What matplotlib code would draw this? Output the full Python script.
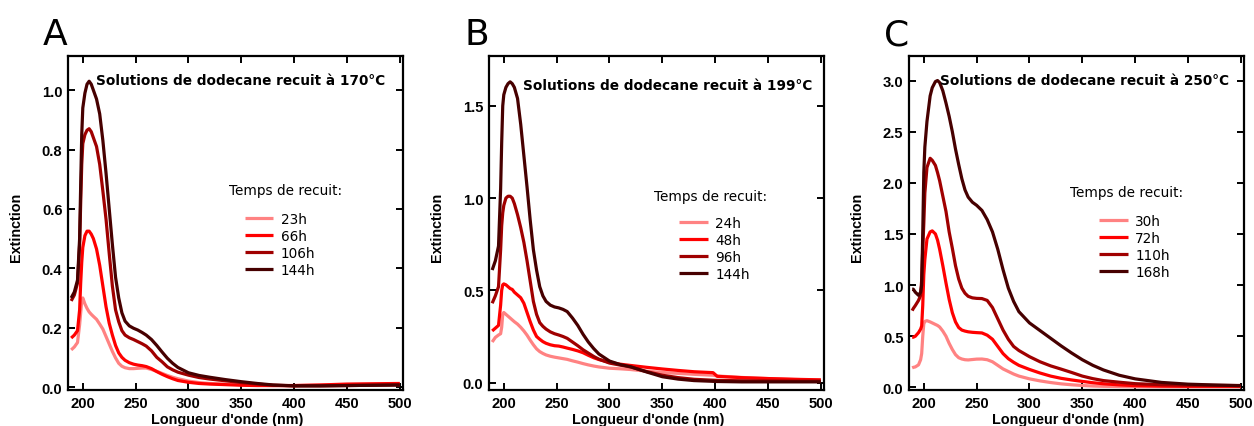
import matplotlib
matplotlib.use('Agg')
import matplotlib.pyplot as plt

# ---------------- data ----------------
wl_A = [189, 192, 195, 197, 198, 199, 200, 202, 204, 206, 208, 210, 213, 216, 219, 222, 225, 228, 231, 234,
        237, 240, 244, 248, 252, 256, 260, 265, 270, 275, 280, 285, 290, 300, 310, 320, 335, 350, 365, 380,
        400, 425, 450, 475, 500]
A_23h = [0.125, 0.135, 0.15, 0.21, 0.25, 0.29, 0.30, 0.28, 0.265, 0.253, 0.245, 0.238, 0.228, 0.212, 0.195,
         0.17, 0.145, 0.12, 0.098, 0.08, 0.07, 0.065, 0.062, 0.062, 0.063, 0.064, 0.064, 0.059, 0.053, 0.046,
         0.039, 0.033, 0.028, 0.02, 0.015, 0.012, 0.01, 0.008, 0.006, 0.005, 0.005, 0.006, 0.008, 0.009, 0.01]
A_66h = [0.165, 0.175, 0.19, 0.26, 0.35, 0.42, 0.47, 0.51, 0.525, 0.525, 0.515, 0.50, 0.465, 0.41, 0.34,
         0.27, 0.215, 0.175, 0.14, 0.115, 0.1, 0.09, 0.082, 0.077, 0.074, 0.072, 0.069, 0.062, 0.052, 0.043,
         0.035, 0.028, 0.022, 0.016, 0.012, 0.01, 0.008, 0.006, 0.005, 0.005, 0.005, 0.007, 0.01, 0.011, 0.012]
A_106h = [0.29, 0.31, 0.35, 0.48, 0.62, 0.75, 0.82, 0.85, 0.865, 0.87, 0.86, 0.84, 0.81, 0.75, 0.66,
          0.565, 0.45, 0.34, 0.26, 0.22, 0.19, 0.175, 0.166, 0.16, 0.153, 0.146, 0.138, 0.122, 0.1, 0.085,
          0.068, 0.058, 0.05, 0.04, 0.032, 0.027, 0.021, 0.015, 0.01, 0.006, 0.004, 0.004, 0.005, 0.006, 0.007]
A_144h = [0.30, 0.32, 0.36, 0.50, 0.68, 0.85, 0.94, 0.99, 1.02, 1.03, 1.02, 1.00, 0.97, 0.92, 0.83,
          0.72, 0.60, 0.48, 0.37, 0.30, 0.25, 0.222, 0.206, 0.198, 0.192, 0.184, 0.175, 0.16, 0.14, 0.118,
          0.097, 0.08, 0.066, 0.048, 0.039, 0.033, 0.025, 0.018, 0.012, 0.007, 0.004, 0.004, 0.005, 0.006, 0.007]

wl_B = [189, 192, 195, 197, 198, 199, 200, 202, 204, 206, 208, 210, 213, 216, 219, 222, 225, 228, 231, 234,
        237, 240, 244, 248, 252, 256, 260, 265, 270, 275, 280, 285, 290, 300, 310, 320, 335, 350, 365, 380,
        398, 402, 425, 450, 475, 500]
B_24h = [0.22, 0.245, 0.258, 0.265, 0.3, 0.37, 0.38, 0.37, 0.36, 0.35, 0.34, 0.33, 0.317, 0.3, 0.28,
         0.257, 0.23, 0.205, 0.183, 0.168, 0.158, 0.15, 0.143, 0.138, 0.134, 0.13, 0.126, 0.118, 0.111, 0.103,
         0.096, 0.09, 0.085, 0.078, 0.075, 0.071, 0.062, 0.055, 0.05, 0.045, 0.04, 0.036, 0.028, 0.022, 0.017, 0.014]
B_48h = [0.28, 0.295, 0.31, 0.42, 0.5, 0.53, 0.535, 0.53, 0.52, 0.51, 0.505, 0.49, 0.475, 0.46, 0.43,
         0.38, 0.33, 0.285, 0.25, 0.235, 0.222, 0.213, 0.205, 0.2, 0.198, 0.193, 0.187, 0.18, 0.172, 0.162,
         0.148, 0.135, 0.125, 0.11, 0.1, 0.093, 0.083, 0.074, 0.066, 0.059, 0.054, 0.034, 0.027, 0.022, 0.018, 0.015]
B_96h = [0.43, 0.47, 0.52, 0.72, 0.85, 0.92, 0.96, 1.0, 1.01, 1.01, 1.0, 0.97, 0.91, 0.84, 0.76,
         0.66, 0.55, 0.44, 0.37, 0.325, 0.305, 0.29, 0.275, 0.265, 0.258, 0.25, 0.24, 0.22, 0.2, 0.178,
         0.16, 0.142, 0.127, 0.106, 0.095, 0.085, 0.06, 0.04, 0.027, 0.018, 0.013, 0.012, 0.01, 0.009, 0.008, 0.008]
B_144h = [0.61, 0.66, 0.74, 1.05, 1.3, 1.5, 1.56, 1.60, 1.62, 1.63, 1.62, 1.60, 1.54, 1.40, 1.23,
          1.06, 0.88, 0.72, 0.61, 0.52, 0.47, 0.44, 0.42, 0.41, 0.405, 0.397, 0.385, 0.35, 0.31, 0.262,
          0.22, 0.185, 0.155, 0.117, 0.098, 0.086, 0.058, 0.032, 0.019, 0.011, 0.007, 0.006, 0.004, 0.004, 0.004, 0.004]

wl_C = [189, 190, 192, 195, 197, 198, 199, 200, 201, 203, 206, 208, 211, 213, 215, 218, 221, 224, 227, 230,
        233, 236, 239, 242, 246, 250, 255, 260, 265, 270, 275, 280, 285, 290, 300, 310, 320, 330, 340, 350,
        360, 370, 385, 400, 425, 450, 475, 500]
C_30h = [0.19, 0.195, 0.2, 0.22, 0.27, 0.33, 0.5, 0.62, 0.645, 0.652, 0.64, 0.63, 0.615, 0.605, 0.59,
         0.55, 0.5, 0.43, 0.37, 0.32, 0.29, 0.277, 0.27, 0.268, 0.272, 0.276, 0.277, 0.27, 0.25, 0.215,
         0.18, 0.155, 0.13, 0.11, 0.083, 0.063, 0.047, 0.034, 0.025, 0.018, 0.013, 0.01, 0.008, 0.006,
         0.005, 0.005, 0.005, 0.005]
C_72h = [0.49, 0.49, 0.5, 0.535, 0.57, 0.6, 0.8, 1.1, 1.25, 1.45, 1.52, 1.53, 1.5, 1.44, 1.35,
         1.19, 1.02, 0.86, 0.73, 0.64, 0.585, 0.56, 0.55, 0.543, 0.538, 0.535, 0.532, 0.51, 0.47, 0.4,
         0.33, 0.28, 0.245, 0.215, 0.175, 0.14, 0.11, 0.088, 0.072, 0.058, 0.045, 0.035, 0.024, 0.017,
         0.012, 0.01, 0.01, 0.01]
C_110h = [0.75, 0.77, 0.8, 0.85, 0.9, 1.05, 1.35, 1.6, 1.9, 2.15, 2.24, 2.22, 2.17, 2.1, 2.02,
          1.87, 1.72, 1.52, 1.36, 1.19, 1.06, 0.97, 0.92, 0.89, 0.875, 0.87, 0.868, 0.85, 0.78, 0.67,
          0.56, 0.47, 0.4, 0.36, 0.3, 0.25, 0.21, 0.178, 0.145, 0.11, 0.085, 0.066, 0.05, 0.036,
          0.026, 0.021, 0.019, 0.018]
C_168h = [0.96, 0.96, 0.93, 0.90, 0.93, 1.0, 1.5, 2.1, 2.35, 2.6, 2.85, 2.93, 2.99, 3.0, 2.98,
          2.9, 2.78, 2.65, 2.5, 2.33, 2.18, 2.04, 1.93, 1.86, 1.81, 1.78, 1.73, 1.64, 1.52, 1.35,
          1.15, 0.97, 0.84, 0.74, 0.63, 0.555, 0.48, 0.405, 0.335, 0.27, 0.215, 0.17, 0.118, 0.083,
          0.048, 0.031, 0.023, 0.016]

labels_A = ['23h', '66h', '106h', '144h']
labels_B = ['24h', '48h', '96h', '144h']
labels_C = ['30h', '72h', '110h', '168h']
titles = ['Solutions de dodecane recuit à 170°C',
          'Solutions de dodecane recuit à 199°C',
          'Solutions de dodecane recuit à 250°C']
panel_letters = ['A', 'B', 'C']
xticks = [200, 250, 300, 350, 400, 450, 500]
yticks_A = [0.0, 0.2, 0.4, 0.6, 0.8, 1.0]
yticks_B = [0.0, 0.5, 1.0, 1.5]
yticks_C = [0.0, 0.5, 1.0, 1.5, 2.0, 2.5, 3.0]

# ---------------- styling ----------------
colors = ['#FF8282', '#FF0000', '#A00000', '#470000']
plt.rcParams['font.family'] = ['Liberation Sans', 'DejaVu Sans']

W, H = 1254, 427
fig = plt.figure(figsize=(W / 100, H / 100), dpi=100)

panels = [
    dict(wl=wl_A, ys=[A_23h, A_66h, A_106h, A_144h], labels=labels_A, yticks=yticks_A,
         ylim=(-0.01, 1.115), left=68, title_x=0.946, title_y=0.928,
         leg_title=(0.480, 0.599), leg=(0.528, 0.533)),
    dict(wl=wl_B, ys=[B_24h, B_48h, B_96h, B_144h], labels=labels_B, yticks=yticks_B,
         ylim=(-0.04, 1.77), left=489, title_x=0.966, title_y=0.914,
         leg_title=(0.493, 0.581), leg=(0.568, 0.521)),
    dict(wl=wl_C, ys=[C_30h, C_72h, C_110h, C_168h], labels=labels_C, yticks=yticks_C,
         ylim=(-0.026, 3.24), left=909, title_x=0.955, title_y=0.928,
         leg_title=(0.481, 0.592), leg=(0.568, 0.527)),
]

for i, p in enumerate(panels):
    ax = fig.add_axes([p['left'] / W, 36 / H, 335 / W, 334 / H])
    for y, c, lab in zip(p['ys'], colors, p['labels']):
        ax.plot(p['wl'], y, color=c, lw=2.3, label=lab, solid_capstyle='butt')
    ax.set_xlim(186, 503)
    ax.set_ylim(*p['ylim'])
    ax.set_xticks(xticks)
    ax.set_xticklabels([str(t) for t in xticks], fontweight='bold')
    ax.set_yticks(p['yticks'])
    ax.set_yticklabels(['%.1f' % t for t in p['yticks']], fontweight='bold')
    ax.tick_params(direction='in', length=5, width=1.4, top=True, right=True,
                   labelsize=10.6, pad=4, colors='black')
    for s in ax.spines.values():
        s.set_linewidth(1.6)
    ax.set_xlabel("Longueur d'onde (nm)", fontweight='bold', fontsize=10.4, va='center')
    ax.xaxis.set_label_coords(0.475, -0.087)
    ax.set_ylabel('Extinction', fontweight='bold', fontsize=10.4, va='center')
    ax.yaxis.set_label_coords(-0.155, 0.491)

    ax.text(p['title_x'], p['title_y'], titles[i], transform=ax.transAxes,
            ha='right', va='center', fontsize=9.8, fontweight='bold', family='DejaVu Sans')
    ax.text(p['leg_title'][0], p['leg_title'][1], 'Temps de recuit:', transform=ax.transAxes,
            ha='left', va='center', fontsize=9.8, family='DejaVu Sans')
    ax.legend(loc='upper left', bbox_to_anchor=p['leg'], frameon=False, borderpad=0,
              borderaxespad=0, handlelength=2.1, handletextpad=0.55, labelspacing=0.22,
              prop={'family': 'DejaVu Sans', 'size': 9.8})

    fig.text((p['left'] - 25) / W, 1 - 45 / H, panel_letters[i], fontsize=26,
             family='DejaVu Sans', ha='left', va='baseline')

fig.savefig('out.png', dpi=100)
